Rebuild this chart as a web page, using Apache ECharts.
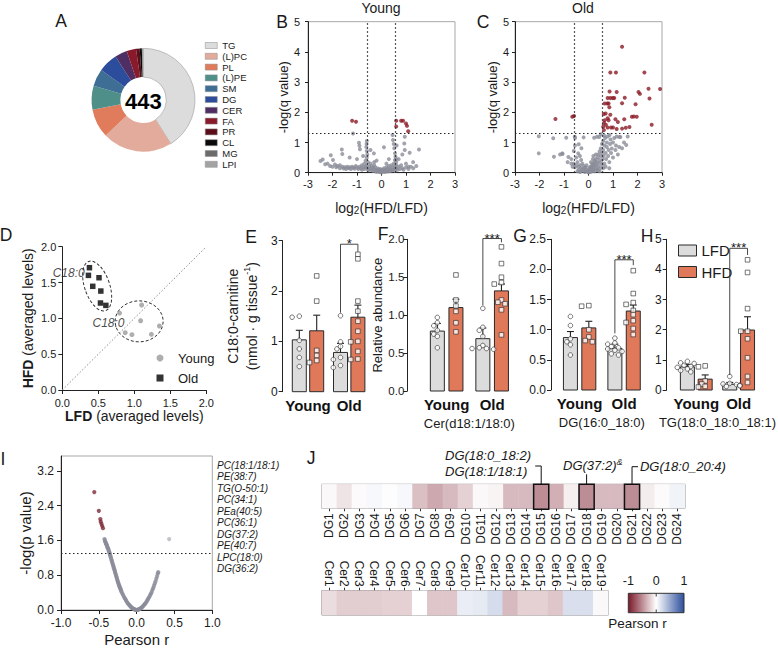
<!DOCTYPE html>
<html>
<head>
<meta charset="utf-8">
<title>Lipidomics figure</title>
<script src="https://cdn.jsdelivr.net/npm/echarts@6.0.0/dist/echarts.min.js"></script>
<style>
html,body{margin:0;padding:0;background:#fff;}
#chart{width:778px;height:648px;}
</style>
</head>
<body>
<div id="chart"></div>
<script>
// ================= DATA =================
// A: lipid classes (number of species)
const lipidClasses = ['TG','(L)PC','PL','(L)PE','SM','DG','CER','FA','PR','CL','MG','LPI'];
const lipidCounts  = [182, 97, 40, 33, 24, 27, 17, 13, 5, 3, 1, 1];

// B: Young volcano  [log2(HFD/LFD), -log(q)]
const youngSig = [[-1.20,1.72],[-1.04,1.69],[0.60,1.72],[0.80,1.72],[0.88,1.72],[0.60,1.53],[1.00,1.63],[1.04,1.55],[1.09,1.37]];
const youngNs = [[-1.16,1.30],[-0.92,0.99],[-0.90,0.89],[-0.88,0.78],[-0.60,1.05],[-0.61,0.95],[-0.62,0.85],[-0.60,0.72],[-0.58,0.60],[-0.60,0.50],
[-1.62,0.77],[-1.60,0.62],[-2.07,0.58],[-1.98,0.42],[-2.49,0.39],[-2.40,0.44],[-2.20,0.30],[-1.90,0.27],[-1.70,0.25],[0.10,0.84],
[0.45,1.25],[0.47,1.08],[0.50,0.95],[0.52,0.81],[0.55,0.64],[0.57,0.53],[0.95,1.19],[0.93,0.97],[0.95,0.75],[1.15,0.66],
[1.53,0.77],[1.29,0.35],[1.42,0.22],[1.00,0.30],[1.10,0.20],[-0.31,0.64],[-0.75,0.55],[-0.45,0.75],[-1.30,0.50],[-1.00,0.45],
[0.30,0.45],[0.70,0.45],[0.85,0.60],[-0.20,0.40],[0.62,0.90],[0.60,0.35],
[-2.30,0.28],[-2.10,0.22],[-2.00,0.20],[-1.85,0.18],[-1.80,0.22],[-1.70,0.15],[-1.60,0.20],[-1.55,0.14],[-1.50,0.18],[-1.45,0.12],
[-1.40,0.20],[-1.35,0.15],[-1.30,0.18],[-1.25,0.12],[-1.20,0.20],[-1.15,0.16],[-1.10,0.13],[-1.05,0.22],[-1.00,0.17],[-0.95,0.12],
[-0.90,0.20],[-0.85,0.15],[-0.80,0.25],[-0.80,0.10],[-0.75,0.18],[-0.70,0.12],[-0.70,0.30],[-0.65,0.20],[-0.60,0.15],[-0.60,0.25],
[-0.55,0.10],[-0.50,0.20],[-0.50,0.08],[-0.45,0.15],[-0.45,0.30],[-0.40,0.10],[-0.40,0.22],[-0.35,0.06],[-0.35,0.16],[-0.30,0.12],
[-0.30,0.25],[-0.25,0.05],[-0.25,0.18],[-0.20,0.10],[-0.20,0.03],[-0.15,0.14],[-0.15,0.06],[-0.10,0.02],[-0.10,0.10],[-0.05,0.04],
[-0.05,0.12],[0.00,0.01],[0.00,0.08],[0.05,0.03],[0.05,0.10],[0.10,0.05],[0.10,0.15],[0.15,0.02],[0.15,0.10],[0.20,0.06],
[0.20,0.18],[0.25,0.04],[0.25,0.12],[0.30,0.08],[0.30,0.22],[0.35,0.05],[0.35,0.15],[0.40,0.10],[0.40,0.25],[0.45,0.08],
[0.45,0.18],[0.50,0.12],[0.50,0.30],[0.55,0.06],[0.55,0.20],[0.60,0.15],[0.60,0.25],[0.65,0.10],[0.70,0.20],[0.75,0.12],
[0.80,0.25],[0.85,0.15],[0.90,0.10],[1.00,0.18],[1.10,0.12],[1.20,0.20],[1.30,0.15],[-0.65,0.40],[-0.55,0.35],[0.55,0.42],
[0.60,0.45],[-0.30,0.35],[0.20,0.30]];

// C: Old volcano
const oldSig = [[1.37,4.17],[0.89,3.32],[1.12,3.32],[2.28,3.32],[2.92,2.77],[2.45,2.78],[2.04,2.67],[2.10,2.61],[0.86,2.69],[1.15,2.67],
[2.49,2.46],[1.48,2.48],[0.78,2.47],[0.89,2.47],[0.99,2.47],[1.05,2.47],[1.37,2.30],[0.66,2.29],[0.77,2.29],[0.82,2.29],
[0.85,2.17],[1.92,2.27],[0.62,1.94],[0.70,1.96],[0.89,1.92],[0.78,1.80],[0.66,1.74],[0.82,1.74],[1.10,1.77],[1.20,1.68],
[1.46,1.77],[1.77,1.85],[1.85,1.86],[1.97,1.85],[2.58,1.59],[0.63,1.65],[0.71,1.59],[0.60,1.52],[0.78,1.50],[0.92,1.50],
[1.00,1.50],[1.15,1.45],[1.37,1.46],[1.52,1.49],[1.67,1.51],[0.63,1.41],[-0.66,1.85],[-0.59,1.88],[-1.35,1.78]];
const oldNs = [[-2.03,1.21],[-2.03,0.64],[-1.41,0.53],[-1.16,0.60],[-1.06,0.62],[-1.44,1.14],[-0.91,1.16],[-0.55,1.15],[-0.20,1.17],[-1.07,0.64],
[-0.56,1.19],[-0.55,0.90],[-0.40,0.94],[-0.29,0.81],[-0.60,0.72],[-0.42,0.64],[-0.82,0.52],[-0.70,0.45],[-0.50,0.50],[-0.35,0.55],
[-0.30,0.42],[-0.45,0.35],[-0.60,0.30],[-0.25,0.30],[-0.20,0.22],[-0.35,0.25],[-0.15,0.15],[-0.30,0.15],[-0.40,0.20],[-0.50,0.25],
[-0.70,0.30],[-0.85,0.35],[-0.10,0.10],[-0.20,0.08],[-0.25,0.12],[-0.05,0.05],[-0.12,0.18],[-0.30,0.05],[-0.40,0.10],[0.00,0.01],
[0.03,0.05],[-0.03,0.03],[0.05,0.10],[0.08,0.02],[0.10,0.08],[0.12,0.15],[0.15,0.05],[0.15,0.22],[0.18,0.12],[0.20,0.30],
[0.20,0.08],[0.22,0.18],[0.25,0.05],[0.25,0.25],[0.28,0.35],[0.30,0.15],[0.30,0.45],[0.32,0.25],[0.35,0.10],[0.35,0.35],
[0.38,0.50],[0.40,0.20],[0.40,0.60],[0.42,0.30],[0.45,0.42],[0.45,0.70],[0.48,0.15],[0.50,0.55],[0.50,0.80],[0.52,0.35],
[0.55,0.25],[0.55,0.65],[0.55,0.95],[0.58,0.45],[0.60,1.05],[0.60,0.75],[0.62,0.55],[0.65,0.30],[0.65,0.90],[0.68,1.15],
[0.70,0.65],[0.72,0.45],[0.75,0.85],[0.75,1.00],[0.78,1.20],[0.80,0.55],[0.82,0.75],[0.85,0.35],[0.88,0.95],[0.90,1.10],
[0.92,0.65],[0.95,0.80],[1.00,0.50],[1.00,1.00],[1.05,1.15],[1.10,0.75],[1.12,0.90],[1.15,1.20],[1.20,0.60],[1.25,0.85],
[1.30,1.18],[1.37,0.81],[1.45,1.00],[1.54,0.92],[1.60,1.20],[0.23,1.16],[0.35,1.19],[0.44,1.18],[0.50,1.27],[0.64,1.22],
[0.86,1.25],[1.26,1.18],[0.30,0.60],[0.25,0.40],[0.15,0.30],[0.10,0.20],[-0.08,0.25],[0.05,0.18],[0.18,0.45],[-0.65,0.20],
[-0.55,0.18],[-0.45,0.05],[-0.35,0.02],[-0.15,0.02],[0.02,0.12],[0.10,0.35],[0.20,0.55],[0.38,0.08],[0.45,0.05],[0.60,0.15],
[0.70,0.20],[0.85,0.15]];
const log2FcCut = 0.585;
const qValueCut = 1.3;

// D: averaged levels [LFD, HFD] of acylcarnitines
const dYoung = [[0.795,1.074],[1.102,1.186],[1.088,0.967],[0.874,0.800],[0.967,0.772],[1.237,0.777],[1.349,0.893]];
const dOld   = [[0.377,1.707],[0.363,1.600],[0.510,1.567],[0.423,1.447],[0.535,1.381],[0.530,1.214],[0.605,1.181]];
const dC18Label = 'C18:0';
const dC18YoungIdx = 0;
const dC18OldIdx = 1;
const dClusterCentres = [[0.484,1.451],[1.067,0.958]];

// E-H: bar charts (mean, SEM, individual animals)
const groupNames = ['Young','Old'];
const eMeanLFD = [1.03,0.78], eMeanHFD = [1.21,1.48];
const eSemLFD  = [0.19,0.18], eSemHFD  = [0.31,0.24];
const ePtsLFD  = [[1.48,1.50,1.02,0.85,0.68,0.50],[1.51,0.99,0.90,0.85,0.68,0.64,0.52,0.48]];
const ePtsHFD  = [[2.30,1.80,0.82,0.72,0.62,0.58],[2.73,2.64,1.80,1.60,1.40,1.20,1.00,0.99,0.80,0.65,0.64]];
const eBracket = [2.93,1.57,2.78];
const eStars = '*';

const fMeanLFD = [0.79,0.69], fMeanHFD = [1.10,1.32];
const fSemLFD  = [0.10,0.14], fSemHFD  = [0.11,0.09];
const fPtsLFD  = [[0.97,0.90,0.86,0.80,0.75,0.72,0.57],[1.09,0.84,0.80,0.72,0.60,0.57,0.56,0.55,0.56]];
const fPtsHFD  = [[1.53,1.20,1.12,1.05,0.90,0.78],[1.90,1.68,1.50,1.43,1.41,1.20,1.17,1.15,1.07,0.74]];
const fBracket = [2.01,1.13,1.96];
const fStars = '***';
const fLipid = 'Cer(d18:1/18:0)';

const gMeanLFD = [0.87,0.69], gMeanHFD = [1.03,1.31];
const gSemLFD  = [0.10,0.07], gSemHFD  = [0.11,0.10];
const gPtsLFD  = [[1.22,1.07,0.85,0.80,0.75,0.58],[0.86,0.78,0.76,0.72,0.70,0.68,0.66,0.64,0.60,0.58]];
const gPtsHFD  = [[1.40,1.39,1.00,0.88,0.82,0.80],[1.98,1.60,1.45,1.42,1.32,1.25,1.15,1.12,1.02,0.92]];
const gBracket = [2.16,0.94,2.07];
const gStars = '***';
const gLipid = 'DG(16:0_18:0)';

const hMeanLFD = [0.77,0.19], hMeanHFD = [0.36,1.99];
const hSemLFD  = [0.08,0.06], hSemHFD  = [0.14,0.44];
const hPtsLFD  = [[0.95,0.90,0.88,0.82,0.78,0.75,0.70,0.65,0.60],[0.45,0.22,0.20,0.18,0.16,0.15,0.14,0.12]];
const hPtsHFD  = [[0.80,0.77,0.30,0.20,0.12,0.10],[4.32,3.90,2.70,1.95,1.95,1.70,1.07,0.45,0.25]];
const hBracket = [4.70,0.50,4.48];
const hStars = '***';
const hLipid = 'TG(18:0_18:0_18:1)';

// I: Pearson r vs -log(p)
const iSigPts = [[-0.56,2.71],[-0.50,2.28],[-0.48,2.09],[-0.475,2.03],[-0.465,1.98],[-0.455,1.93],[-0.445,1.88]];
const iNsPts = [[-0.425,1.63],[-0.42,1.60],[-0.415,1.57],[-0.41,1.55],[-0.405,1.53],[-0.40,1.51],[-0.395,1.49],[-0.39,1.46],[-0.385,1.44],[-0.38,1.42],
[-0.375,1.40],[-0.37,1.37],[-0.365,1.35],[-0.36,1.32],[-0.355,1.29],[-0.35,1.26],[-0.345,1.23],[-0.34,1.20],[-0.335,1.17],[-0.33,1.14],
[-0.325,1.11],[-0.32,1.08],[-0.315,1.05],[-0.31,1.02],[-0.305,0.99],[-0.30,0.96],[-0.295,0.93],[-0.29,0.90],[-0.285,0.87],[-0.28,0.84],
[-0.275,0.81],[-0.27,0.78],[-0.265,0.75],[-0.26,0.72],[-0.255,0.69],[-0.25,0.66],[-0.245,0.63],[-0.24,0.61],[-0.235,0.58],[-0.23,0.56],
[-0.225,0.53],[-0.22,0.51],[-0.215,0.49],[-0.21,0.47],[-0.205,0.44],[-0.20,0.42],[-0.19,0.38],[-0.18,0.35],[-0.17,0.31],[-0.16,0.28],
[-0.15,0.25],[-0.14,0.22],[-0.13,0.19],[-0.12,0.16],[-0.11,0.14],[-0.10,0.12],[-0.09,0.10],[-0.08,0.08],[-0.07,0.06],[-0.06,0.05],
[-0.05,0.035],[-0.04,0.025],[-0.03,0.015],[-0.02,0.008],[-0.01,0.003],[0.00,0.00],
[0.01,0.003],[0.02,0.008],[0.03,0.015],[0.04,0.025],[0.05,0.035],[0.06,0.05],[0.07,0.06],[0.08,0.08],[0.09,0.10],[0.10,0.12],
[0.11,0.14],[0.12,0.16],[0.13,0.19],[0.14,0.22],[0.15,0.25],[0.16,0.28],[0.17,0.31],[0.18,0.35],[0.19,0.38],[0.20,0.42],
[0.21,0.47],[0.22,0.51],[0.23,0.56],[0.24,0.61],[0.25,0.66],[0.26,0.72],[0.27,0.78],[0.28,0.84],[0.285,0.87]];
const iOtherPts = [[0.43,1.63]];
const iYTicks = [0, 0.8, 1.6, 2.4, 3.2];
const pValueCut = 1.3;
const iTopLipids = ['PC(18:1/18:1)','PE(38:7)','TG(O-50:1)','PC(34:1)','PEa(40:5)','PC(36:1)','DG(37:2)','PE(40:7)','LPC(18:0)','DG(36:2)'];

// J: heatmaps of Pearson r
const dgNames = ['DG1','DG2','DG3','DG4','DG5','DG6','DG7','DG8','DG9','DG10','DG11','DG12','DG13','DG14','DG15','DG16','DG17','DG18','DG19','DG20','DG21','DG22','DG23','DG24'];
const dgR = [-0.03,-0.12,-0.02,0.04,-0.01,0.04,-0.28,-0.38,-0.30,-0.20,-0.03,-0.05,-0.30,-0.30,-0.50,-0.35,-0.07,-0.50,-0.30,-0.30,-0.50,-0.08,-0.02,0.07];
const cerNames = ['Cer1','Cer2','Cer3','Cer4','Cer5','Cer6','Cer7','Cer8','Cer9','Cer10','Cer11','Cer12','Cer13','Cer14','Cer15','Cer16','Cer17','Cer18','Cer19'];
const cerR = [-0.15,-0.22,-0.22,-0.22,-0.20,-0.20,0.00,-0.25,-0.25,0.10,0.12,0.20,-0.30,-0.20,-0.20,-0.25,0.18,0.18,-0.03];
const dgMarked = [14, 17, 20];
const dgMarkedNames = [['DG(18:0_18:2)','DG(18:1/18:1)'],['DG(37:2)'],['DG(18:0_20:4)']];
const dgMarkedSup = ['', '&', ''];
const rRange = [-1, 0, 1];

// ================= STYLE / LAYOUT =================
const FONT = '"Liberation Sans", Arial, Helvetica, sans-serif';
const TXT = '#1a1a1a';
const AX = '#222';
const LFD_COL = '#dcdcdc';
const HFD_COL = '#e0785a';
const GREY_PT = '#8a8c98';
const RED_PT = '#8b1a26';
const lipidColors = ['#dcdcdc','#e3ab9b','#e07b5c','#4f8f8a','#3e6e93','#2c4c9c','#4f2f63','#891a2b','#5b0d19','#0a0a0a','#6b6b6b','#a3a3a3'];
const heatColors = ['#7b1a2a','#ffffff','#2d4f9c'];

const option = {
  animation: false,
  textStyle: { fontFamily: FONT, color: TXT },
  grid: [], xAxis: [], yAxis: [], series: [], legend: [], visualMap: [],
  graphic: [{ type: 'group', silent: true, children: [] }]
};
const GR = option.graphic[0].children;
function gtext(x, y, text, st) {
  GR.push({ type: 'text', x: x, y: y, silent: true,
    style: Object.assign({ text: text, fontFamily: FONT, fill: TXT, fontSize: 12,
      align: 'center', verticalAlign: 'middle' }, st || {}) });
}
function axisBase(extra) {
  return Object.assign({
    axisLine: { show: true, onZero: false, lineStyle: { color: AX, width: 1 } },
    axisTick: { show: true, length: 4, lineStyle: { color: AX, width: 1 } },
    axisLabel: { color: TXT, fontSize: 11, fontFamily: FONT },
    splitLine: { show: false },
    nameTextStyle: { color: TXT, fontFamily: FONT, fontSize: 13 }
  }, extra);
}

// ---------- panel letters ----------
[['A',61,21],['B',282,22],['C',483,22],['D',6,235],['E',251,237],['F',383,234],['G',520,236],['H',647,236],['I',3,459],['J',311,458]]
  .forEach(function (p) { gtext(p[1], p[2], p[0], { fontSize: 17.5 }); });

// ---------- A: donut ----------
option.series.push({
  type: 'pie', center: [143.3, 100], radius: [23, 51.7], startAngle: 90, clockwise: true,
  label: { show: false }, labelLine: { show: false }, silent: true,
  data: lipidClasses.map(function (n, i) {
    return { name: n, value: lipidCounts[i],
      itemStyle: { color: lipidColors[i], borderColor: i === 0 ? '#9a9a9a' : lipidColors[i], borderWidth: i === 0 ? 0.6 : 0 } };
  })
});
gtext(143.3, 101, String(lipidCounts.reduce(function (a, b) { return a + b; }, 0)), { fontSize: 22, fontWeight: 'bold', fill: '#000' });
option.legend.push({
  data: lipidClasses, orient: 'vertical', left: 205, top: 40.5, itemWidth: 12, itemHeight: 6, itemGap: 0.8,
  icon: 'rect', selectedMode: false, padding: 0,
  itemStyle: { borderColor: '#8a8a8a', borderWidth: 0.5 },
  textStyle: { fontSize: 9.5, lineHeight: 9, color: TXT, fontFamily: FONT, padding: [0, 0, 0, 0] }
});

// ---------- B & C: volcanoes ----------
function volcano(left, title, titleX, sig, ns, yNameGap, yLabelMargin) {
  const g = option.grid.length;
  option.grid.push({ left: left, top: 21.7, width: 147, height: 151, show: true, borderColor: '#a8a8a8', borderWidth: 1 });
  const xi = option.xAxis.length, yi = option.yAxis.length;
  option.xAxis.push(axisBase({ gridIndex: g, type: 'value', min: -3, max: 3, interval: 1,
    axisTick: { show: true, length: 3, lineStyle: { color: AX } },
    axisLabel: { color: TXT, fontSize: 11, margin: 6 },
    name: '{a|log}{s|2}{a|(HFD/LFD)}', nameLocation: 'middle', nameGap: 27,
    nameTextStyle: { color: TXT, rich: { a: { fontSize: 14, fontFamily: FONT, color: TXT, lineHeight: 16 }, s: { fontSize: 10, fontFamily: FONT, color: TXT, lineHeight: 10, verticalAlign: 'bottom' } } } }));
  option.yAxis.push(axisBase({ gridIndex: g, type: 'value', min: 0, max: 5, interval: 1,
    axisTick: { show: true, length: 3, lineStyle: { color: AX } },
    axisLabel: { color: TXT, fontSize: 11, margin: yLabelMargin },
    name: '-log(q value)', nameLocation: 'middle', nameGap: yNameGap,
    nameTextStyle: { color: TXT, fontSize: 13, fontFamily: FONT } }));
  option.series.push({
    type: 'scatter', name: title + ' ns', xAxisIndex: xi, yAxisIndex: yi, data: ns, symbolSize: 4,
    itemStyle: { color: GREY_PT }, silent: true, z: 3,
    markLine: { silent: true, symbol: 'none', label: { show: false },
      lineStyle: { type: [1.5, 2.5], color: '#222', width: 1.2 },
      data: [{ xAxis: -log2FcCut }, { xAxis: log2FcCut }, { yAxis: qValueCut }] }
  });
  option.series.push({ type: 'scatter', name: title + ' sig', xAxisIndex: xi, yAxisIndex: yi, data: sig, symbolSize: 4,
    itemStyle: { color: RED_PT }, silent: true, z: 4 });
  gtext(titleX, 8, title, { fontSize: 14 });
}
volcano(308, 'Young', 381, youngSig, youngNs, 18, 8);
volcano(515, 'Old', 583, oldSig, oldNs, 16, 6);

// ---------- D: scatter LFD vs HFD ----------
(function () {
  const g = option.grid.length;
  option.grid.push({ left: 62.3, top: 246.7, width: 144, height: 143.3 });
  const xi = option.xAxis.length, yi = option.yAxis.length;
  const fmt = function (v) { return v.toFixed(1); };
  option.xAxis.push(axisBase({ gridIndex: g, type: 'value', min: 0, max: 2, interval: 0.5,
    axisLabel: { color: TXT, fontSize: 11, margin: 7, formatter: fmt },
    name: '{b|LFD} (averaged levels)', nameLocation: 'middle', nameGap: 17,
    nameTextStyle: { color: TXT, fontSize: 14, fontFamily: FONT, rich: { b: { fontWeight: 'bold', fontSize: 14, fontFamily: FONT, color: TXT } } } }));
  option.yAxis.push(axisBase({ gridIndex: g, type: 'value', min: 0, max: 2, interval: 0.5,
    axisLabel: { color: TXT, fontSize: 11, margin: 6, formatter: fmt },
    name: '{b|HFD} (averaged levels)', nameLocation: 'middle', nameGap: 27,
    nameTextStyle: { color: TXT, fontSize: 14, fontFamily: FONT, rich: { b: { fontWeight: 'bold', fontSize: 14, fontFamily: FONT, color: TXT } } } }));
  const lab = { show: true, formatter: dC18Label, fontSize: 12, fontStyle: 'italic', color: TXT, fontFamily: FONT };
  option.series.push({ type: 'scatter', name: 'Young', xAxisIndex: xi, yAxisIndex: yi, symbol: 'circle', symbolSize: 5,
    itemStyle: { color: '#9a9a9a' }, silent: true, z: 4,
    data: dYoung.map(function (p, i) { return i === dC18YoungIdx ? { value: p, label: Object.assign({ position: 'bottom', distance: 1, offset: [-11, 0] }, lab) } : { value: p }; }),
    markLine: { silent: true, symbol: 'none', label: { show: false }, lineStyle: { type: [1.5, 2], color: '#8a8a8a', width: 1 },
      data: [[{ coord: [0, 0] }, { coord: [2, 2] }]] } });
  option.series.push({ type: 'scatter', name: 'Old', xAxisIndex: xi, yAxisIndex: yi, symbol: 'rect', symbolSize: 5.5,
    itemStyle: { color: '#000' }, silent: true, z: 4,
    data: dOld.map(function (p, i) { return i === dC18OldIdx ? { value: p, label: Object.assign({ position: 'left', distance: 1, offset: [0, -2.5] }, lab) } : { value: p }; }) });
  const ell = [{ rx: 12.5, ry: 26, rot: 0.33 }, { rx: 24, ry: 20.5, rot: 0 }];
  option.series.push({ type: 'custom', name: 'clusters', xAxisIndex: xi, yAxisIndex: yi, silent: true, z: 3,
    data: dClusterCentres,
    renderItem: function (params, api) {
      const c = api.coord([api.value(0), api.value(1)]);
      const L = ell[params.dataIndex];
      return { type: 'ellipse', x: c[0], y: c[1], rotation: L.rot, shape: { cx: 0, cy: 0, rx: L.rx, ry: L.ry },
        style: { fill: 'none', stroke: '#333', lineWidth: 1, lineDash: [3, 2] } };
    } });
  option.legend.push({ data: [{ name: 'Young', icon: 'circle', itemStyle: { color: '#9a9a9a' } }, { name: 'Old', icon: 'rect', itemStyle: { color: '#000' } }],
    orient: 'vertical', left: 156.5, top: 351, itemWidth: 7, itemHeight: 7, itemGap: 6, padding: 0, selectedMode: false,
    textStyle: { fontSize: 13, lineHeight: 14, color: TXT, fontFamily: FONT, padding: [0, 0, 0, 9.5] } });
})();

// ---------- E-H: bar panels ----------
function swarm(vals, ppu, step, minDist) {
  const order = vals.map(function (v, i) { return i; }).sort(function (a, b) { return vals[b] - vals[a]; });
  const placed = [], offs = new Array(vals.length);
  order.forEach(function (i) {
    const y = vals[i] * ppu;
    const cands = [0, -1, 1, -2, 2, -3, 3];
    let chosen = cands[cands.length - 1] * step;
    for (let k = 0; k < cands.length; k++) {
      const x = cands[k] * step;
      const hit = placed.some(function (p) { return Math.hypot(p[0] - x, p[1] - y) < minDist; });
      if (!hit) { chosen = x; break; }
    }
    placed.push([chosen, y]); offs[i] = chosen;
  });
  return offs;
}
function barPanel(P) {
  const g = option.grid.length;
  option.grid.push({ left: P.left, top: P.top, width: P.width, height: P.height });
  const xv = option.xAxis.length;
  option.xAxis.push({ gridIndex: g, type: 'value', min: -0.5, max: 1.5, show: false, position: 'bottom' });
  option.xAxis.push({ gridIndex: g, type: 'category', data: groupNames, position: 'bottom',
    axisLine: { show: false }, axisTick: { show: false },
    axisLabel: { fontSize: 15, fontWeight: 'bold', color: '#111', margin: 6, interval: 0, fontFamily: FONT },
    name: P.lipid || '', nameLocation: 'middle', nameGap: 26,
    nameTextStyle: { fontSize: 13, color: TXT, fontFamily: FONT } });
  const yi = option.yAxis.length;
  option.yAxis.push(axisBase({ gridIndex: g, type: 'value', min: 0, max: P.ymax, interval: P.interval, offset: P.yOffset,
    axisLabel: { color: TXT, fontSize: P.tickFont || 12, margin: P.tickMargin || 5, fontFamily: FONT, formatter: function (v) { return v.toFixed(P.dec); } },
    name: P.yName || '', nameLocation: 'middle', nameGap: P.yNameGap || 15, nameTextStyle: P.yNameStyle || { fontSize: 13, color: TXT, fontFamily: FONT } }));
  const spacing = P.width / 2, ppu = P.height / P.ymax;
  const off = P.barOff / spacing;
  const BW = 14;
  [['LFD', -1, P.meanL, P.semL, P.ptsL, LFD_COL, 'circle'], ['HFD', 1, P.meanH, P.semH, P.ptsH, HFD_COL, 'rect']].forEach(function (d) {
    const side = d[1];
    option.series.push({ type: 'custom', name: d[0], xAxisIndex: xv, yAxisIndex: yi, silent: true, z: 2,
      itemStyle: { color: d[5] },
      data: d[2].map(function (m, i) { return [i + side * off, m]; }),
      renderItem: function (params, api) {
        const top = api.coord([api.value(0), api.value(1)]), base = api.coord([api.value(0), 0]);
        return { type: 'rect', shape: { x: top[0] - BW / 2, y: top[1], width: BW, height: base[1] - top[1] },
          style: { fill: d[5], stroke: '#2a2a2a', lineWidth: 1 } };
      } });
    option.series.push({ type: 'custom', name: d[0] + ' sem', xAxisIndex: xv, yAxisIndex: yi, silent: true, z: 3,
      data: d[2].map(function (m, i) { return [i + side * off, m, d[3][i]]; }),
      renderItem: function (params, api) {
        const x = api.value(0), m = api.value(1), s = api.value(2);
        const a = api.coord([x, m]), b = api.coord([x, m + s]);
        return { type: 'group', children: [
          { type: 'line', shape: { x1: a[0], y1: a[1], x2: b[0], y2: b[1] }, style: { stroke: '#222', lineWidth: 1.1 } },
          { type: 'line', shape: { x1: b[0] - 3.5, y1: b[1], x2: b[0] + 3.5, y2: b[1] }, style: { stroke: '#222', lineWidth: 1.1 } }] };
      } });
    const pts = [];
    d[4].forEach(function (vals, gi) {
      const offs = swarm(vals, ppu, 3.6, 4.2);
      vals.forEach(function (v, k) { pts.push([gi + side * off + offs[k] / spacing, v]); });
    });
    option.series.push({ type: 'scatter', name: d[0] + ' animals', xAxisIndex: xv, yAxisIndex: yi, silent: true, z: 5,
      symbol: d[6], symbolSize: 4.6, data: pts,
      itemStyle: { color: '#ffffff', borderColor: '#2a2a2a', borderWidth: 0.8 } });
  });
  option.series.push({ type: 'custom', name: 'sig', xAxisIndex: xv, yAxisIndex: yi, silent: true, z: 6,
    data: [[1 - off, 1 + off, P.bracket[0], P.bracket[1], P.bracket[2]]],
    renderItem: function (params, api) {
      const l = api.coord([api.value(0), api.value(2)]), r = api.coord([api.value(1), api.value(2)]);
      const lf = api.coord([api.value(0), api.value(3)]), rf = api.coord([api.value(1), api.value(4)]);
      return { type: 'group', children: [
        { type: 'polyline', shape: { points: [lf, l, r, rf] }, style: { stroke: '#333', lineWidth: 0.9, fill: 'none' } },
        { type: 'text', x: (l[0] + r[0]) / 2, y: l[1] - 0.5,
          style: { text: P.stars, fontSize: 13, fontFamily: FONT, fill: TXT, align: 'center', verticalAlign: 'middle' } }] };
    } });
}
barPanel({ left: 287.4, top: 240.7, width: 82.4, height: 151, yOffset: 4.7, ymax: 3, interval: 1, dec: 0, barOff: 8.7,
  meanL: eMeanLFD, meanH: eMeanHFD, semL: eSemLFD, semH: eSemHFD, ptsL: ePtsLFD, ptsH: ePtsHFD, bracket: eBracket, stars: eStars,
  yName: '{a|C18:0-carnitine}\n{a|(nmol · g tissue}{s|-1}{a|)}', yNameGap: 21,
  yNameStyle: { color: TXT, rich: { a: { fontSize: 14, lineHeight: 19, fontFamily: FONT, color: TXT }, s: { fontSize: 9, lineHeight: 9, verticalAlign: 'top', fontFamily: FONT, color: TXT } } } });
barPanel({ left: 423.9, top: 239.3, width: 91, height: 151.7, yOffset: 16.6, ymax: 2, interval: 0.5, dec: 1, barOff: 9.3,
  meanL: fMeanLFD, meanH: fMeanHFD, semL: fSemLFD, semH: fSemHFD, ptsL: fPtsLFD, ptsH: fPtsHFD, bracket: fBracket, stars: fStars,
  lipid: fLipid, yName: 'Relative abundance', yNameGap: 11, tickFont: 11.5, tickMargin: 3,
  yNameStyle: { fontSize: 13, color: TXT, fontFamily: FONT } });
barPanel({ left: 557.4, top: 239.3, width: 88.9, height: 150.7, yOffset: 6.4, ymax: 2.5, interval: 0.5, dec: 1, barOff: 9.2,
  meanL: gMeanLFD, meanH: gMeanHFD, semL: gSemLFD, semH: gSemHFD, ptsL: gPtsLFD, ptsH: gPtsHFD, bracket: gBracket, stars: gStars,
  lipid: gLipid });
barPanel({ left: 675.1, top: 239.3, width: 90.5, height: 150.7, yOffset: 8.4, ymax: 5, interval: 1, dec: 0, barOff: 9.5,
  meanL: hMeanLFD, meanH: hMeanHFD, semL: hSemLFD, semH: hSemHFD, ptsL: hPtsLFD, ptsH: hPtsHFD, bracket: hBracket, stars: hStars,
  lipid: hLipid });
option.legend.push({ data: [{ name: 'LFD', icon: 'rect', itemStyle: { color: LFD_COL, borderColor: '#2a2a2a', borderWidth: 1 } },
                            { name: 'HFD', icon: 'rect', itemStyle: { color: HFD_COL, borderColor: '#2a2a2a', borderWidth: 1 } }],
  orient: 'vertical', left: 678, top: 243, itemWidth: 18, itemHeight: 11, itemGap: 6.5, padding: 0, selectedMode: false,
  textStyle: { fontSize: 15, lineHeight: 15, color: TXT, fontFamily: FONT } });

// ---------- I: correlation volcano ----------
(function () {
  const g = option.grid.length;
  option.grid.push({ left: 61, top: 456, width: 151.3, height: 154, show: true, borderColor: '#a8a8a8', borderWidth: 1 });
  const xi = option.xAxis.length, yi = option.yAxis.length;
  option.xAxis.push(axisBase({ gridIndex: g, type: 'value', min: -1, max: 1, interval: 0.5,
    axisLabel: { color: TXT, fontSize: 12, margin: 7, formatter: function (v) { return v.toFixed(1); } },
    name: 'Pearson r', nameLocation: 'middle', nameGap: 22, nameTextStyle: { fontSize: 15, color: TXT, fontFamily: FONT } }));
  option.yAxis.push(axisBase({ gridIndex: g, type: 'value', min: 0, max: 3.54,
    axisTick: { show: true, length: 4, customValues: iYTicks, lineStyle: { color: AX } },
    axisLabel: { color: TXT, fontSize: 12, margin: 7, customValues: iYTicks, formatter: function (v) { return (+v).toFixed(1); } },
    name: '-log(p value)', nameLocation: 'middle', nameGap: 22, nameTextStyle: { fontSize: 15, color: TXT, fontFamily: FONT } }));
  option.series.push({ type: 'scatter', name: 'I ns', xAxisIndex: xi, yAxisIndex: yi, data: iNsPts, symbolSize: 4.2,
    itemStyle: { color: GREY_PT }, silent: true, z: 3,
    markLine: { silent: true, symbol: 'none', label: { show: false }, lineStyle: { type: [1.5, 2.5], color: '#222', width: 1.2 },
      data: [{ yAxis: pValueCut }] } });
  option.series.push({ type: 'scatter', name: 'I other', xAxisIndex: xi, yAxisIndex: yi, data: iOtherPts, symbolSize: 4.2,
    itemStyle: { color: '#b4b4bc' }, silent: true, z: 3 });
  option.series.push({ type: 'scatter', name: 'I sig', xAxisIndex: xi, yAxisIndex: yi, data: iSigPts, symbolSize: 4.2,
    itemStyle: { color: '#7e2a38' }, silent: true, z: 4 });
  iTopLipids.forEach(function (t, k) {
    gtext(217, 465.5 + k * 11.45, t, { fontSize: 10, fontStyle: 'italic', align: 'left' });
  });
})();

// ---------- J: heatmaps ----------
let dgSeriesIdx, cerSeriesIdx;
(function () {
  // DG
  let g = option.grid.length;
  option.grid.push({ left: 321.7, top: 484.3, width: 363.3, height: 24, show: true, borderColor: '#7a7a7a', borderWidth: 1 });
  let xi = option.xAxis.length, yi = option.yAxis.length;
  option.xAxis.push({ gridIndex: g, type: 'category', data: dgNames, position: 'bottom',
    axisLine: { show: false }, axisTick: { show: true, alignWithLabel: true, length: 3, lineStyle: { color: '#333' } },
    axisLabel: { rotate: 90, fontSize: 12, margin: 5, interval: 0, color: TXT, fontFamily: FONT }, splitLine: { show: false } });
  option.yAxis.push({ gridIndex: g, type: 'category', data: [''], show: false });
  dgSeriesIdx = option.series.length;
  option.series.push({ type: 'heatmap', name: 'DG r', xAxisIndex: xi, yAxisIndex: yi, silent: true, z: 1,
    data: dgR.map(function (v, i) { return [i, 0, v]; }), itemStyle: { borderWidth: 0 } });
  const callout = [
    { up: 18.3, hx: -6, tx: -96.2, ty: [-29.3, -12.6] },
    { up: 10, hx: 0, tx: -23.6, ty: [-19.3] },
    { up: 17.6, hx: 6, tx: 7.9, ty: [-17.6] }];
  option.series.push({ type: 'custom', name: 'DG marked', xAxisIndex: xi, yAxisIndex: yi, silent: true, z: 5,
    data: dgMarked.map(function (i) { return [i, 0]; }),
    renderItem: function (params, api) {
      const k = params.dataIndex, L = callout[k];
      const c = api.coord([api.value(0), 0]);
      const sz = api.size([1, 1]);
      const top = c[1] - sz[1] / 2;
      const ch = [
        { type: 'rect', shape: { x: c[0] - sz[0] / 2, y: top, width: sz[0], height: sz[1] + 1 }, style: { fill: 'none', stroke: '#111', lineWidth: 1.5 } },
        { type: 'polyline', shape: { points: [[c[0], top], [c[0], top - L.up], [c[0] + L.hx, top - L.up]] }, style: { fill: 'none', stroke: '#111', lineWidth: 1 } }];
      dgMarkedNames[k].forEach(function (t, j) {
        const sup = (j === dgMarkedNames[k].length - 1) ? dgMarkedSup[k] : '';
        ch.push({ type: 'text', x: c[0] + L.tx, y: top + L.ty[j],
          style: { text: '{a|' + t + '}' + (sup ? '{s|' + sup + '}' : ''), align: 'left', verticalAlign: 'middle',
            rich: { a: { fontSize: 13, fontStyle: 'italic', fontFamily: FONT, fill: TXT, lineHeight: 16 },
                    s: { fontSize: 9, fontStyle: 'italic', fontFamily: FONT, fill: TXT, lineHeight: 9, verticalAlign: 'top' } } } });
      });
      return { type: 'group', children: ch };
    } });
  // Cer
  g = option.grid.length;
  option.grid.push({ left: 321.7, top: 590.7, width: 286.6, height: 24.3, show: true, borderColor: '#7a7a7a', borderWidth: 1 });
  xi = option.xAxis.length; yi = option.yAxis.length;
  option.xAxis.push({ gridIndex: g, type: 'category', data: cerNames, position: 'top',
    axisLine: { show: false }, axisTick: { show: true, alignWithLabel: true, length: 3, lineStyle: { color: '#333' } },
    axisLabel: { rotate: 90, fontSize: 12, margin: 4, interval: 0, color: TXT, fontFamily: FONT }, splitLine: { show: false } });
  option.yAxis.push({ gridIndex: g, type: 'category', data: [''], show: false });
  cerSeriesIdx = option.series.length;
  option.series.push({ type: 'heatmap', name: 'Cer r', xAxisIndex: xi, yAxisIndex: yi, silent: true, z: 1,
    data: cerR.map(function (v, i) { return [i, 0, v]; }), itemStyle: { borderWidth: 0 } });
})();
option.visualMap.push({ type: 'continuous', show: false, min: rRange[0], max: rRange[2], dimension: 2,
  seriesIndex: [dgSeriesIdx, cerSeriesIdx], inRange: { color: heatColors } });

// colour bar
GR.push({ type: 'rect', shape: { x: 628.3, y: 593.3, width: 55.7, height: 19.4 },
  style: { fill: new echarts.graphic.LinearGradient(0, 0, 1, 0, [{ offset: 0, color: heatColors[0] }, { offset: 0.5, color: heatColors[1] }, { offset: 1, color: heatColors[2] }]),
    stroke: '#333', lineWidth: 1 } });
GR.push({ type: 'line', shape: { x1: 656.2, y1: 593.3, x2: 656.2, y2: 596.5 }, style: { stroke: '#333', lineWidth: 1 } });
GR.push({ type: 'line', shape: { x1: 656.2, y1: 609.5, x2: 656.2, y2: 612.7 }, style: { stroke: '#333', lineWidth: 1 } });
rRange.forEach(function (v, k) { gtext(628.3 + k * 27.85, 581, String(v), { fontSize: 12.5 }); });
gtext(608.3, 623.5, 'Pearson r', { fontSize: 13.5, align: 'left' });

const chart = echarts.init(document.getElementById('chart'), null, { renderer: 'svg', width: 778, height: 648 });
chart.setOption(option);
</script>
</body>
</html>
